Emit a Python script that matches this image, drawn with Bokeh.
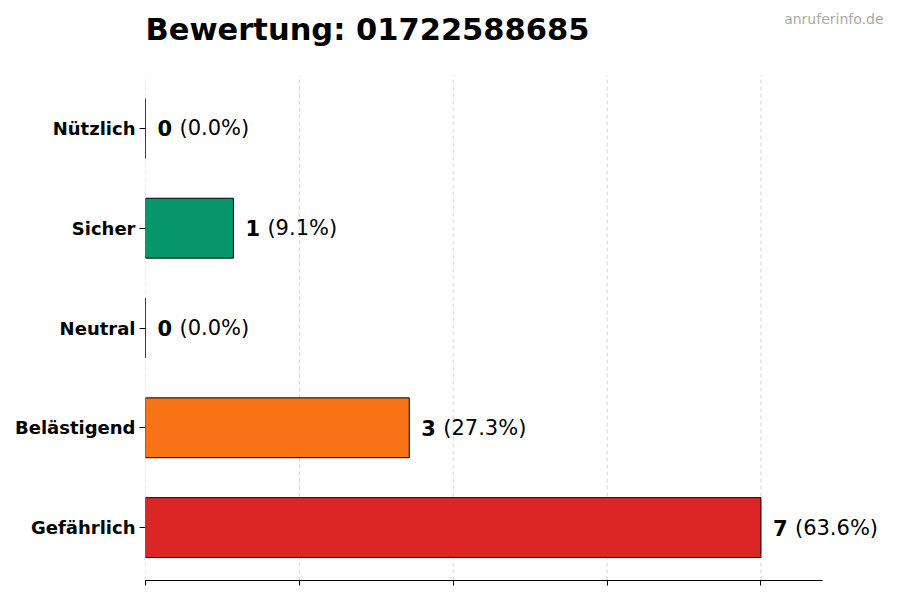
from bokeh.plotting import figure
from bokeh.models import ColumnDataSource, Range1d, FixedTicker, Label
from bokeh.core.properties import value
from bokeh.embed import file_html
from bokeh.resources import INLINE

# ---- data ----
categories = ["Gefährlich", "Belästigend", "Neutral", "Sicher", "Nützlich"]
counts = [7, 3, 0, 1, 0]
percent_labels = ["(63.6%)", "(27.3%)", "(0.0%)", "(9.1%)", "(0.0%)"]
bar_colors = ["#dc2626", "#f97316", "#6b7280", "#059669", "#10b981"]
title_text = "Bewertung: 01722588685"
watermark = "anruferinfo.de"

FONT = "DejaVu Sans"
positions = list(range(len(categories)))
xmax = max(counts) * 1.1
y_lo, y_hi = -0.53, len(categories) - 1 + 0.53   # visible plot area (axes box)

# ---- layout (pixels) ----
W, H = 892, 592
axes_left, axes_right, axes_top, axes_bottom = 145, 822, 75, 580
ml, mb = axes_left, H - axes_bottom
px = (axes_right - axes_left) / xmax          # px per x unit
py = (axes_bottom - axes_top) / (y_hi - y_lo)  # px per y unit
x_end = (W - axes_left) / px
y_end = y_hi + axes_top / py

p = figure(width=W, height=H, output_backend="svg", toolbar_location=None,
           x_range=Range1d(0, x_end), y_range=Range1d(y_lo, y_end),
           min_border_left=ml, min_border_right=0, min_border_top=0,
           min_border_bottom=mb)
p.outline_line_color = None
p.background_fill_color = "white"
p.border_fill_color = "white"

ticks_x = [max(counts) * f for f in (0, 0.25, 0.5, 0.75, 1.0)]

# gridlines (limited to the axes box)
p.segment(x0=ticks_x, y0=[y_lo] * len(ticks_x), x1=ticks_x, y1=[y_hi] * len(ticks_x),
          line_color="#cccccc", line_dash="4 3", line_width=0.8)

src = ColumnDataSource(dict(
    y=positions, right=counts, color=bar_colors,
    cnt=[str(c) for c in counts], pct=percent_labels))

p.hbar(y="y", left=0, right="right", height=0.6, source=src,
       fill_color="color", line_color="black", line_width=1)

p.text(x="right", y="y", text="cnt", source=src, x_offset=12,
       text_font=value(FONT), text_font_style="bold", text_font_size="21px",
       text_baseline="middle", text_align="left", text_color="black")
p.text(x="right", y="y", text="pct", source=src, x_offset=34,
       text_font=value(FONT), text_font_style="normal", text_font_size="21px",
       text_baseline="middle", text_align="left", text_color="black")

# axes
p.xaxis.ticker = FixedTicker(ticks=ticks_x)
p.xaxis.bounds = (0, xmax)
p.xaxis.major_label_overrides = {t: "" for t in ticks_x}
p.xaxis.major_label_standoff = 0
p.xaxis.major_tick_out = 5
p.xaxis.major_tick_in = 0
p.xaxis.minor_tick_line_color = None
p.xaxis.axis_line_color = "black"
p.xaxis.axis_line_width = 1.2
p.xaxis.major_tick_line_color = "black"

p.yaxis.ticker = FixedTicker(ticks=positions)
p.yaxis.major_label_overrides = {i: c for i, c in zip(positions, categories)}
p.yaxis.axis_line_color = None
p.yaxis.major_tick_out = 6
p.yaxis.major_tick_in = 0
p.yaxis.minor_tick_line_color = None
p.yaxis.major_tick_line_color = "black"
p.yaxis.major_label_standoff = 4
p.yaxis.major_label_text_font = FONT
p.yaxis.major_label_text_font_style = "bold"
p.yaxis.major_label_text_font_size = "18px"
p.yaxis.major_label_text_color = "black"

p.xgrid.grid_line_color = None
p.ygrid.grid_line_color = None

# title & watermark
p.add_layout(Label(x=0, y=y_hi + 46 / py, text=title_text,
                   text_font=FONT, text_font_style="bold", text_font_size="30.5px",
                   text_align="left", text_baseline="alphabetic", text_color="black"))
p.add_layout(Label(x=(883 - axes_left) / px, y=y_hi + 65 / py, text=watermark,
                   text_font=FONT, text_font_size="14px", text_color="#aaaaaa",
                   text_align="right", text_baseline="top"))

open("out.html", "w").write(file_html(p, INLINE))
